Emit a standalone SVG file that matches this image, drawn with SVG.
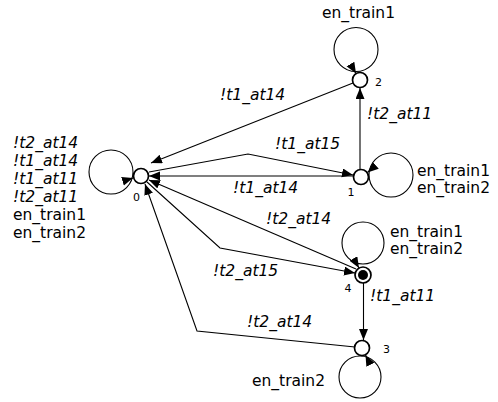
<svg xmlns="http://www.w3.org/2000/svg" width="498" height="402" viewBox="0 0 498 402">
<style>
  .edge{fill:none;stroke:#000;stroke-width:1.1}
  .loop{fill:none;stroke:#000;stroke-width:1.1}
  .node{fill:#fff;stroke:#000;stroke-width:1.7}
  .lbl{font-family:"DejaVu Sans",sans-serif;font-size:15.5px;fill:#000}
  .it{font-style:oblique}
  .num{font-family:"DejaVu Sans",sans-serif;font-size:11px;fill:#000}
</style>
<defs>
  <marker id="arr" markerUnits="userSpaceOnUse" markerWidth="12" markerHeight="10" refX="11" refY="4.5" orient="auto">
    <path d="M0,0 L11,4.5 L0,9 z" fill="#000"/>
  </marker>
</defs>
<rect width="498" height="402" fill="#fff"/>
<g id="connectors">
  <!-- self loops -->
  <circle class="loop" cx="111" cy="172" r="22"/>
  <path class="edge" d="M131.1,178.6 L133,178" marker-end="url(#arr)"/>
  <circle class="loop" cx="356" cy="49.5" r="22"/>
  <path class="edge" d="M355,71.8 L356,73.5" marker-end="url(#arr)"/>
  <circle class="loop" cx="391" cy="175" r="22"/>
  <path class="edge" d="M369,171.2 L367.5,172.5" marker-end="url(#arr)"/>
  <circle class="loop" cx="363" cy="243" r="21"/>
  <path class="edge" d="M358,266.3 L359,268" marker-end="url(#arr)"/>
  <circle class="loop" cx="360" cy="377" r="21"/>
  <path class="edge" d="M366.4,356.8 L365.5,355" marker-end="url(#arr)"/>
  <!-- edges -->
  <path class="edge" d="M353,83 L151,163" marker-end="url(#arr)"/>
  <path class="edge" d="M360,169 L360,88" stroke-width="1" marker-end="url(#arr)"/>
  <path class="edge" d="M149,172 L248,154 L353,175" marker-end="url(#arr)"/>
  <path class="edge" d="M353,176 L149,176" marker-end="url(#arr)"/>
  <path class="edge" d="M356,269 L149,180" marker-end="url(#arr)"/>
  <path class="edge" d="M147,182 L220,248 L355,273" marker-end="url(#arr)"/>
  <path class="edge" d="M363.5,283 L363.5,340" marker-end="url(#arr)"/>
  <path class="edge" d="M355,347 L197,331 L145,184" marker-end="url(#arr)"/>
  <!-- labels -->
  <text class="lbl" x="322" y="18">en_train1</text>
  <text class="lbl it" x="220" y="100">!t1_at14</text>
  <text class="lbl it" x="367" y="119">!t2_at11</text>
  <text class="lbl it" x="275" y="149">!t1_at15</text>
  <text class="lbl it" x="233" y="193">!t1_at14</text>
  <text class="lbl" x="417" y="176">en_train1</text>
  <text class="lbl" x="417" y="193">en_train2</text>
  <text class="lbl it" x="266" y="224">!t2_at14</text>
  <text class="lbl" x="390" y="237">en_train1</text>
  <text class="lbl" x="390" y="254">en_train2</text>
  <text class="lbl it" x="213" y="276">!t2_at15</text>
  <text class="lbl it" x="370" y="301">!t1_at11</text>
  <text class="lbl it" x="247" y="327">!t2_at14</text>
  <text class="lbl" x="252" y="386">en_train2</text>
  <text class="lbl it" x="13" y="148">!t2_at14</text>
  <text class="lbl it" x="13" y="166">!t1_at14</text>
  <text class="lbl it" x="13" y="184">!t1_at11</text>
  <text class="lbl it" x="13" y="202">!t2_at11</text>
  <text class="lbl" x="13" y="220">en_train1</text>
  <text class="lbl" x="13" y="238">en_train2</text>
</g>
<g id="node0">
  <circle class="node" cx="141" cy="176" r="7.5"/>
  <text class="num" x="136.5" y="201" text-anchor="middle">0</text>
</g>
<g id="node1">
  <circle class="node" cx="361" cy="177" r="7.5"/>
  <text class="num" x="351" y="196" text-anchor="middle">1</text>
</g>
<g id="node2">
  <circle class="node" cx="360" cy="80" r="7.5"/>
  <text class="num" x="375" y="86">2</text>
</g>
<g id="node3">
  <circle class="node" cx="362" cy="348" r="7.5"/>
  <text class="num" x="383" y="353">3</text>
</g>
<g id="node4">
  <circle class="node" cx="363" cy="275" r="8"/>
  <circle cx="363" cy="275" r="5" fill="#000"/>
  <text class="num" x="348" y="292" text-anchor="middle">4</text>
</g>
</svg>
